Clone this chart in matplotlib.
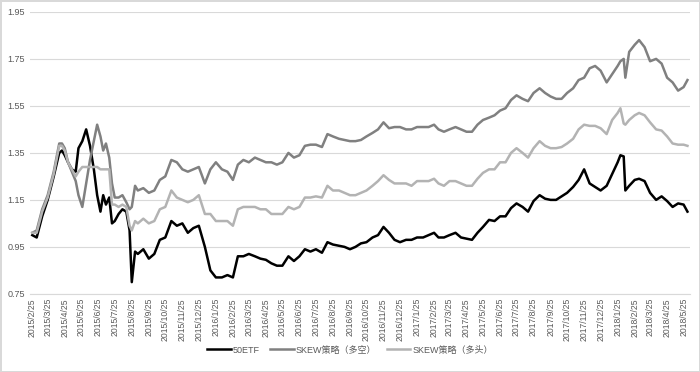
import matplotlib
matplotlib.use("Agg")
import matplotlib.pyplot as plt
import matplotlib.dates as mdates
import pandas as pd

plt.rcParams['font.family'] = ['Liberation Sans', 'Noto Sans CJK SC', 'DejaVu Sans']

# 日期（共用）
dates = [
    "2015-02-25", "2015-03-05", "2015-03-15", "2015-03-25", "2015-04-05", "2015-04-15", "2015-04-20",
    "2015-04-25", "2015-05-01", "2015-05-08", "2015-05-15", "2015-05-20", "2015-05-27", "2015-06-03",
    "2015-06-10", "2015-06-17", "2015-06-23", "2015-06-29", "2015-07-04", "2015-07-09", "2015-07-15",
    "2015-07-20", "2015-07-25", "2015-08-01", "2015-08-08", "2015-08-15", "2015-08-21", "2015-08-25",
    "2015-08-31", "2015-09-05", "2015-09-15", "2015-09-25", "2015-10-05", "2015-10-15", "2015-10-25",
    "2015-11-05", "2015-11-15", "2015-11-25", "2015-12-05", "2015-12-15", "2015-12-25",
    "2016-01-05", "2016-01-15", "2016-01-25", "2016-02-05", "2016-02-15", "2016-02-25",
    "2016-03-05", "2016-03-15", "2016-03-25", "2016-04-05", "2016-04-15", "2016-04-25",
    "2016-05-05", "2016-05-15", "2016-05-25", "2016-06-05", "2016-06-15", "2016-06-25",
    "2016-07-05", "2016-07-15", "2016-07-25", "2016-08-05", "2016-08-15", "2016-08-25",
    "2016-09-05", "2016-09-15", "2016-09-25", "2016-10-05", "2016-10-15", "2016-10-25",
    "2016-11-05", "2016-11-15", "2016-11-25", "2016-12-05", "2016-12-15", "2016-12-25",
    "2017-01-05", "2017-01-15", "2017-01-25", "2017-02-05", "2017-02-15", "2017-02-25",
    "2017-03-05", "2017-03-15", "2017-03-25", "2017-04-05", "2017-04-15", "2017-04-25",
    "2017-05-05", "2017-05-15", "2017-05-25", "2017-06-05", "2017-06-15", "2017-06-25",
    "2017-07-05", "2017-07-15", "2017-07-25", "2017-08-05", "2017-08-15", "2017-08-25",
    "2017-09-05", "2017-09-15", "2017-09-25", "2017-10-05", "2017-10-15", "2017-10-25",
    "2017-11-05", "2017-11-15", "2017-11-25", "2017-12-05", "2017-12-15", "2017-12-25",
    "2018-01-05", "2018-01-15", "2018-01-25", "2018-01-30", "2018-02-05", "2018-02-08",
    "2018-02-15", "2018-02-25", "2018-03-05", "2018-03-15", "2018-03-25", "2018-04-05",
    "2018-04-15", "2018-04-25", "2018-05-05", "2018-05-15", "2018-05-25", "2018-06-01",
]

etf50 = [
    1.00, 0.99, 1.08, 1.15, 1.25, 1.35, 1.36,
    1.34, 1.31, 1.28, 1.27, 1.37, 1.40, 1.45,
    1.38, 1.28, 1.17, 1.10, 1.17, 1.13, 1.16,
    1.05, 1.06, 1.09, 1.11, 1.10, 1.02, 0.80,
    0.93, 0.92, 0.94, 0.90, 0.92, 0.98, 0.99,
    1.06, 1.04, 1.05, 1.01, 1.03, 1.04,
    0.95, 0.85, 0.82, 0.82, 0.83, 0.82,
    0.91, 0.91, 0.92, 0.91, 0.90, 0.895,
    0.88, 0.87, 0.87, 0.91, 0.89, 0.91,
    0.94, 0.93, 0.94, 0.925, 0.97, 0.96,
    0.955, 0.95, 0.94, 0.95, 0.965, 0.97,
    0.99, 1.00, 1.035, 1.01, 0.98, 0.97,
    0.98, 0.98, 0.99, 0.99, 1.00, 1.01,
    0.99, 0.99, 1.00, 1.01, 0.99, 0.985,
    0.98, 1.01, 1.035, 1.065, 1.06, 1.08,
    1.08, 1.115, 1.135, 1.12, 1.10, 1.145,
    1.17, 1.155, 1.15, 1.15, 1.165, 1.18,
    1.205, 1.235, 1.28, 1.22, 1.205, 1.19,
    1.21, 1.26, 1.31, 1.34, 1.335, 1.19,
    1.21, 1.235, 1.24, 1.23, 1.18, 1.15,
    1.165, 1.145, 1.12, 1.135, 1.13, 1.10,
]

skew_ls = [
    1.01, 1.02, 1.11, 1.17, 1.27, 1.39, 1.39,
    1.37, 1.31, 1.27, 1.23, 1.17, 1.12, 1.22,
    1.32, 1.40, 1.47, 1.42, 1.36, 1.39, 1.33,
    1.22, 1.16, 1.16, 1.17, 1.14, 1.11, 1.12,
    1.21, 1.19, 1.20, 1.18, 1.19, 1.235, 1.25,
    1.32, 1.31, 1.28, 1.27, 1.28, 1.29,
    1.22, 1.28, 1.31, 1.28, 1.27, 1.235,
    1.30, 1.32, 1.31, 1.33, 1.32, 1.31,
    1.31, 1.30, 1.31, 1.35, 1.33, 1.34,
    1.38, 1.385, 1.385, 1.375, 1.43, 1.42,
    1.41, 1.405, 1.40, 1.40, 1.405, 1.42,
    1.435, 1.45, 1.48, 1.455, 1.46, 1.46,
    1.45, 1.45, 1.46, 1.46, 1.46, 1.47,
    1.45, 1.44, 1.45, 1.46, 1.45, 1.44,
    1.44, 1.47, 1.49, 1.50, 1.51, 1.53,
    1.54, 1.575, 1.595, 1.58, 1.57, 1.605,
    1.625, 1.605, 1.59, 1.58, 1.58, 1.605,
    1.625, 1.66, 1.67, 1.71, 1.72, 1.70,
    1.65, 1.685, 1.72, 1.74, 1.75, 1.67,
    1.78, 1.81, 1.83, 1.80, 1.74, 1.75,
    1.73, 1.67, 1.65, 1.615, 1.63, 1.66,
]

skew_long = [
    1.01, 1.01, 1.10, 1.16, 1.26, 1.38, 1.38,
    1.36, 1.31, 1.28, 1.25, 1.27, 1.29, 1.29,
    1.29, 1.29, 1.29, 1.28, 1.28, 1.28, 1.28,
    1.13, 1.13, 1.12, 1.13, 1.12, 1.04, 1.02,
    1.06, 1.05, 1.07, 1.05, 1.06, 1.11, 1.12,
    1.19, 1.16, 1.15, 1.14, 1.15, 1.17,
    1.09, 1.09, 1.06, 1.06, 1.06, 1.04,
    1.11, 1.12, 1.12, 1.12, 1.11, 1.11,
    1.09, 1.09, 1.09, 1.12, 1.11, 1.12,
    1.16, 1.16, 1.165, 1.16, 1.21, 1.19,
    1.19, 1.18, 1.17, 1.17, 1.18, 1.19,
    1.21, 1.23, 1.255, 1.235, 1.22, 1.22,
    1.22, 1.21, 1.23, 1.23, 1.23, 1.24,
    1.22, 1.21, 1.23, 1.23, 1.22, 1.21,
    1.21, 1.24, 1.265, 1.28, 1.28, 1.31,
    1.31, 1.35, 1.37, 1.35, 1.33, 1.37,
    1.40, 1.38, 1.37, 1.37, 1.375, 1.39,
    1.41, 1.45, 1.47, 1.465, 1.465, 1.455,
    1.43, 1.49, 1.52, 1.54, 1.475, 1.47,
    1.49, 1.51, 1.52, 1.51, 1.48, 1.45,
    1.445, 1.42, 1.39, 1.385, 1.385, 1.38,
]

labels = ["50ETF", "SKEW策略（多空）", "SKEW策略（多头）"]
colors = ["#000000", "#808080", "#b3b3b3"]

x = pd.to_datetime(dates)

fig = plt.figure(figsize=(7, 3.72), dpi=100)
fig.patch.set_edgecolor("#d9d9d9")
fig.patch.set_linewidth(1)
ax = fig.add_axes([0.043, 0.21, 0.943, 0.758])

for ser, lab, col in zip([etf50, skew_ls, skew_long], labels, colors):
    ax.plot(x, ser, color=col, lw=1.8, label=lab)

ax.set_ylim(0.75, 1.95)
ax.set_yticks([0.75, 0.95, 1.15, 1.35, 1.55, 1.75, 1.95])
ax.set_yticklabels(["0.75", "0.95", "1.15", "1.35", "1.55", "1.75", "1.95"])
ax.set_xlim(pd.Timestamp("2015-02-21"), pd.Timestamp("2018-06-06"))

# 每月25日一个刻度
ax.xaxis.set_major_locator(mdates.MonthLocator(bymonthday=25))
ax.xaxis.set_major_formatter(plt.FuncFormatter(
    lambda v, p: "{0}/{1}/{2}".format(mdates.num2date(v).year, mdates.num2date(v).month, mdates.num2date(v).day)))

ax.grid(axis="y", color="#d9d9d9", lw=0.8)
ax.set_axisbelow(True)
for s in ["top", "right", "left"]:
    ax.spines[s].set_visible(False)
ax.spines["bottom"].set_color("#d9d9d9")
ax.tick_params(axis="both", length=0, colors="#595959", labelsize=6.5)
ax.tick_params(axis="x", rotation=90, labelsize=6.2, pad=3)

ax.legend(loc="center", bbox_to_anchor=(0.5, 0.059), bbox_transform=fig.transFigure, ncol=3,
          frameon=False, fontsize=6.5, handlelength=2.6, handletextpad=0.2, columnspacing=1.2,
          labelcolor="#595959")

fig.savefig("out.png", dpi=100)
